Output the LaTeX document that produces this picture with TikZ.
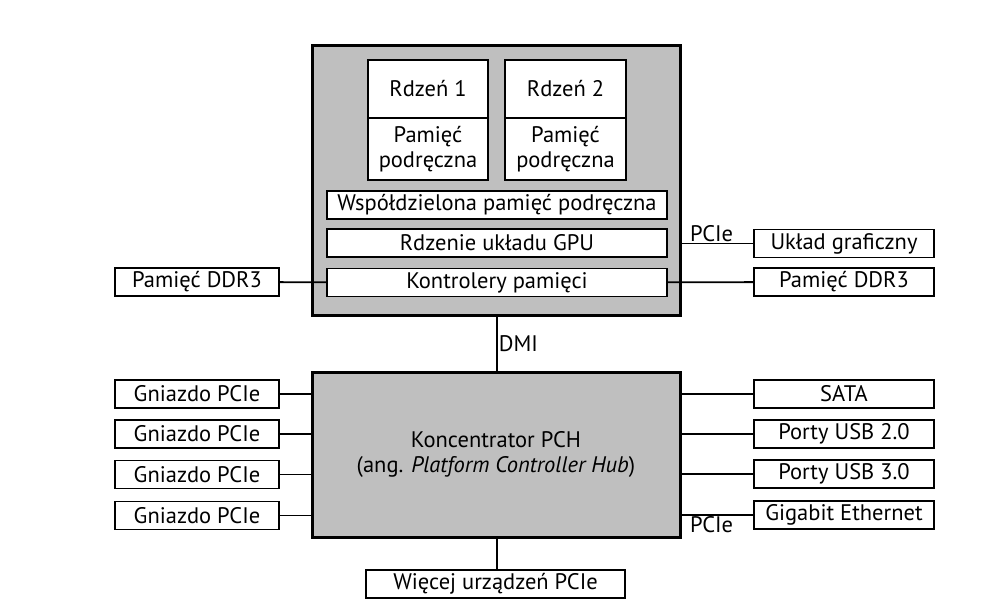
\documentclass[tikz,border=0pt]{standalone}
\usepackage{fontspec}
\setmainfont{PT Sans}
\usetikzlibrary{positioning}

\begin{document}
\begin{tikzpicture}[x=1pt,y=-1pt,
  font=\fontsize{22.5}{25}\selectfont,
  box/.style={draw,line width=1.8pt,fill=white,inner sep=0pt,minimum height=28pt,align=center},
  chip/.style={draw,line width=3pt,fill=black!25,inner sep=0pt,align=center},
  link/.style={line width=1.8pt},
  tag/.style={inner sep=1pt}]
\useasboundingbox (0,0) rectangle (996,611);
% procesor
\node[chip,minimum width=368pt,minimum height=270pt] (cpu) at (496,180) {};
\node[box,minimum width=120pt,minimum height=58pt] (core1) at (428,89) {Rdzeń 1};
\node[box,minimum width=120pt,minimum height=62pt] (cache1) at (428,149) {Pamięć\\podręczna};
\node[box,minimum width=121pt,minimum height=58pt] (core2) at (565.5,89) {Rdzeń 2};
\node[box,minimum width=121pt,minimum height=62pt] (cache2) at (565.5,149) {Pamięć\\podręczna};
\node[box,minimum width=340pt] (shared) at (497,205) {Współdzielona pamięć podręczna};
\node[box,minimum width=340pt] (gpu) at (497,243) {Rdzenie układu GPU};
\node[box,minimum width=340pt] (mc) at (497,282.5) {Kontrolery pamięci};
\node[box,minimum width=164pt] (ddrl) at (197,282) {Pamięć DDR3};
\node[box,minimum width=180pt] (ddrr) at (844,282) {Pamięć DDR3};
\node[box,minimum width=180pt] (gfx) at (844,243.5) {Układ graficzny};
% chipset
\node[chip,minimum width=368pt,minimum height=165pt] (pch) at (496,454.5)
  {Koncentrator PCH\\(ang. \textit{Platform Controller Hub})};
\node[box,minimum width=164pt] (slot1) at (197,394) {Gniazdo PCIe};
\node[box,minimum width=164pt] (slot2) at (197,434) {Gniazdo PCIe};
\node[box,minimum width=164pt] (slot3) at (197,474.5) {Gniazdo PCIe};
\node[box,minimum width=164pt] (slot4) at (197,515.5) {Gniazdo PCIe};
\node[box,minimum width=180pt] (sata) at (844,394) {SATA};
\node[box,minimum width=180pt] (usb2) at (844,434) {Porty USB 2.0};
\node[box,minimum width=180pt] (usb3) at (844,474) {Porty USB 3.0};
\node[box,minimum width=180pt] (gbe) at (844,515) {Gigabit Ethernet};
\node[box,minimum width=259pt] (more) at (495.5,584) {Więcej urządzeń PCIe};
% polaczenia
\draw[link] (ddrl) -- (mc);
\draw[link] (mc) -- (ddrr);
\draw[link] (gfx) -- (gfx -| cpu.east) node[tag,above,pos=.58] {PCIe};
\draw[link] (cpu.south -| 497,0) -- (pch.north -| 497,0) node[tag,right,midway] {DMI};
\foreach \s in {slot1,slot2,slot3,slot4}
  \draw[link] (\s) -- (\s -| pch.west);
\foreach \d in {sata,usb2,usb3}
  \draw[link] (\d) -- (\d -| pch.east);
\draw[link] (gbe) -- (gbe -| pch.east) node[tag,below,pos=.58] {PCIe};
\draw[link] (pch.south -| 497,0) -- (more.north -| 497,0);
\end{tikzpicture}
\end{document}
